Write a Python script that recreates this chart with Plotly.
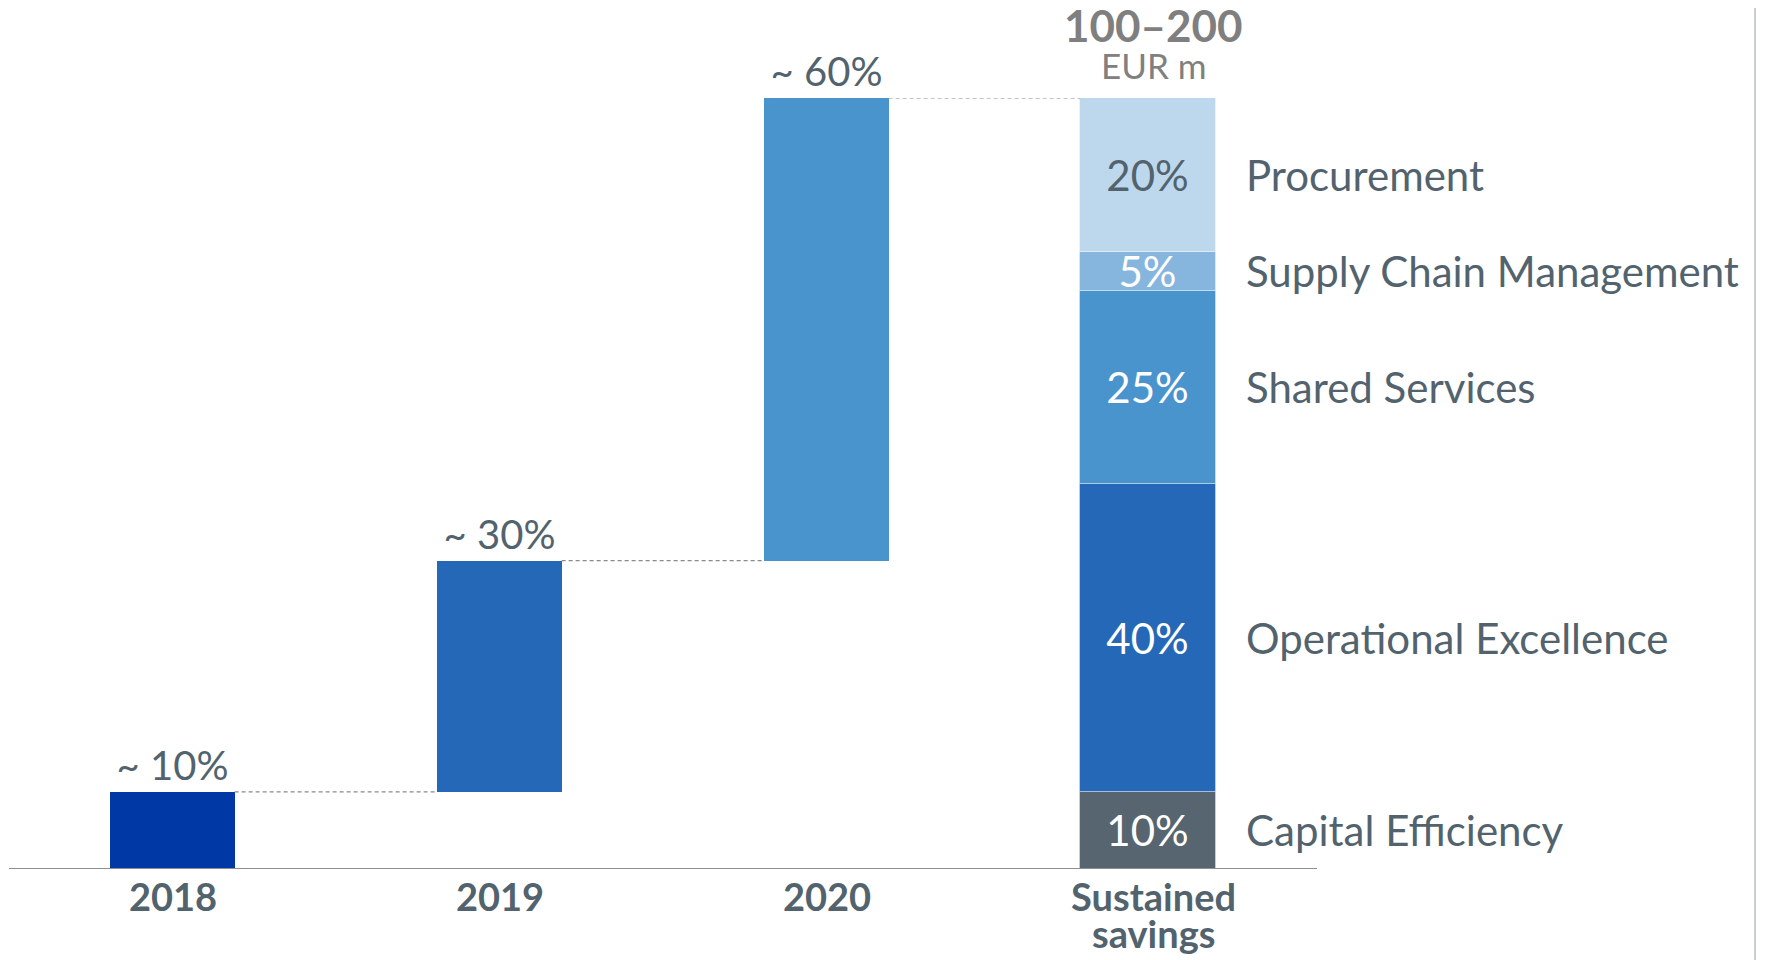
import plotly.graph_objects as go
import numpy as np

# waterfall years (share of sustained savings reached, cumulative steps)
years = ['2018', '2019', '2020']
year_steps = [10, 30, 60]
year_labels = ['~ 10%', '~ 30%', '~ 60%']
year_colors = ['#0039A6', '#2668B8', '#4A94CD']

# sustained savings breakdown (bottom to top)
sust_category = 'Sustained<br>savings'
segments = ['Capital Efficiency', 'Operational Excellence', 'Shared Services',
            'Supply Chain Management', 'Procurement']
segment_values = [10, 40, 25, 5, 20]
segment_colors = ['#56656F', '#2668B8', '#4A94CD', '#86B5DD', '#BDD7EC']
segment_text_colors = ['white', 'white', 'white', 'white', '#52636E']

total_label = '100–200'
total_unit = 'EUR m'

TEXT = '#52636E'
FONT = 'Lato, Open Sans, sans-serif'
categories = years + [sust_category]

YW = 0.38                    # year bar width
SW, SOFF = 0.414, -0.224     # sustained bar width / offset

fig = go.Figure()

# waterfall steps
year_tops = np.cumsum(year_steps)
year_bases = year_tops - np.array(year_steps)
fig.add_trace(go.Bar(
    x=years, y=year_steps, base=year_bases, width=YW,
    marker=dict(color=year_colors, line=dict(width=0)),
    text=year_labels, textposition='outside', constraintext='none',
    textfont=dict(family=FONT, size=40, color=TEXT),
    cliponaxis=False, hoverinfo='skip', showlegend=False,
))

# stacked sustained bar
seg_bases = np.cumsum(segment_values) - np.array(segment_values)
for name, val, b, col, tcol in zip(segments, segment_values, seg_bases,
                                   segment_colors, segment_text_colors):
    fig.add_trace(go.Bar(
        x=[sust_category], y=[val], base=[b], width=SW, offset=SOFF, name=name,
        marker=dict(color=col, line=dict(color='rgba(255,255,255,0.35)', width=1)),
        text=[f'{val}%'], textposition='inside', insidetextanchor='middle',
        constraintext='none',
        textfont=dict(family=FONT, size=42, color=tcol),
        hoverinfo='skip', showlegend=False,
    ))
    # right-hand labels
    fig.add_annotation(
        x=3 + SOFF + SW, y=b + val / 2, xref='x', yref='y', xanchor='left',
        xshift=28, text=name, showarrow=False,
        font=dict(family=FONT, size=42, color=TEXT),
    )

# dashed connectors between bars
conn_x0 = [i + YW / 2 for i in range(3)]
conn_x1 = [1 - YW / 2, 2 - YW / 2, 3 + SOFF]
for x0, x1, yv in zip(conn_x0, conn_x1, year_tops):
    fig.add_shape(type='line', xref='x', yref='y', x0=x0, x1=x1, y0=yv, y1=yv,
                  line=dict(color='#8A8A8A', width=1.2, dash='4px,3px'))

# total label above sustained bar
fig.add_annotation(x=3, y=100, xref='x', yref='y', yanchor='middle', yshift=73,
                   text=f'<b>{total_label}</b>', showarrow=False,
                   font=dict(family=FONT, size=44, color='#7F7F7F'))
fig.add_annotation(x=3, y=100, xref='x', yref='y', yanchor='middle', yshift=33,
                   text=total_unit, showarrow=False,
                   font=dict(family=FONT, size=35, color='#808080'))

# category labels (drawn as text so the two-line label keeps tight spacing)
for i, cat in enumerate(categories):
    for j, line in enumerate(cat.split('<br>')):
        fig.add_annotation(x=i, y=0, xref='x', yref='y', yanchor='middle',
                           yshift=-27 - 37 * j, text=f'<b>{line}</b>',
                           showarrow=False,
                           font=dict(family=FONT, size=38, color=TEXT))

# baseline axis and right-edge border
fig.add_shape(type='line', xref='x', yref='y', x0=-0.5, x1=3.5, y0=0, y1=0,
              line=dict(color='#8F8F8F', width=2))
fig.add_shape(type='line', xref='paper', yref='paper', x0=1.3349, x1=1.3349,
              y0=-0.2, y1=1.2, line=dict(color='#C8CDD2', width=2))

fig.update_xaxes(categoryorder='array', categoryarray=categories,
                 range=[-0.5, 3.5], showgrid=False, showline=False,
                 zeroline=False, ticks='', showticklabels=False)
fig.update_yaxes(range=[0, 100], visible=False)

# page body has an 8px margin, so the figure is 8px smaller each way
fig.update_layout(
    barmode='overlay',
    width=1761, height=952,
    margin=dict(l=1, r=452, t=90, b=91),
    plot_bgcolor='white', paper_bgcolor='white',
    font=dict(family=FONT, color=TEXT),
    bargap=0,
)

fig.write_html('out.html')
